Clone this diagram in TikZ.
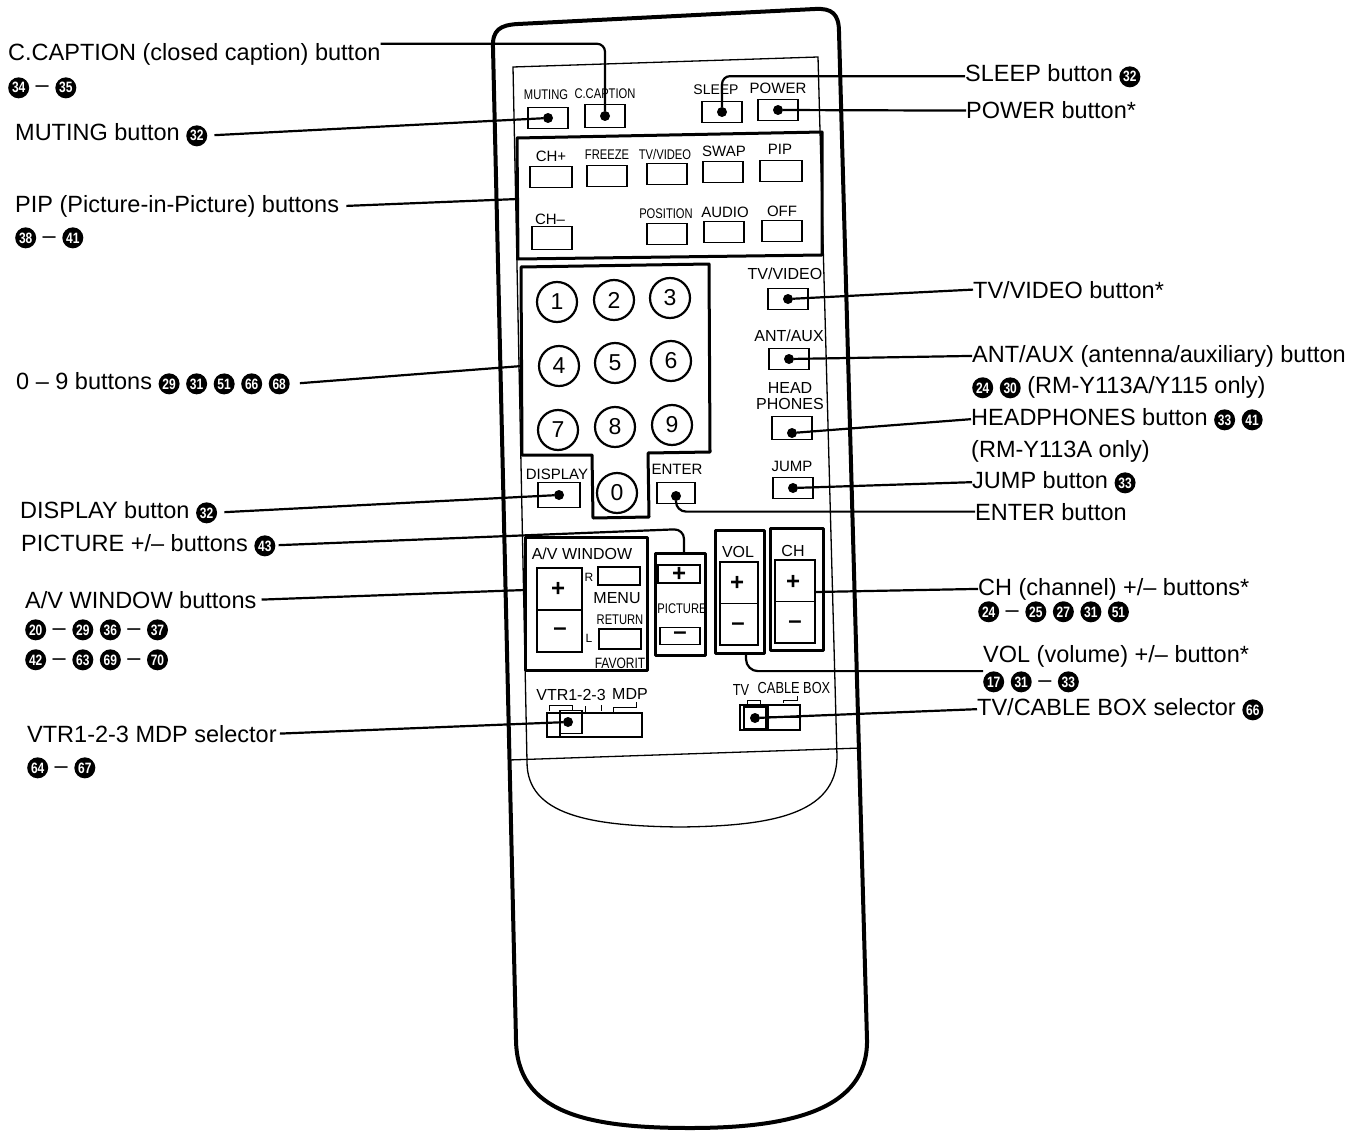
\documentclass[tikz,border=0pt]{standalone}
\usepackage{fontspec}
\setmainfont{Liberation Sans}
\newfontfamily\keyfont{Liberation Sans}[FakeStretch=0.8]
\usetikzlibrary{positioning}

\tikzset{
  body/.style={line width=4pt, line join=round},
  frame/.style={line width=1.3pt},
  panel/.style={line width=3pt, line join=round},
  lead/.style={line width=2.2pt},
  lbl/.style={anchor=base west, inner sep=0pt, font=\fontsize{23.5}{28}\selectfont},
  keybox/.style={draw, line width=1.8pt, minimum width=40pt, minimum height=21pt, inner sep=0pt},
  keydot/.style={circle, fill=black, inner sep=0pt, minimum size=10pt},
  numkey/.style={circle, draw, line width=2.2pt, minimum size=40pt, inner sep=0pt, font=\fontsize{23}{23}\selectfont},
  ktxt/.style={inner sep=0pt, font=\fontsize{15}{15}\selectfont},
  knar/.style={inner sep=0pt, font=\keyfont\fontsize{14}{14}\selectfont},
  sign/.style={inner sep=0pt, font=\bfseries\fontsize{24}{24}\selectfont},
  cnum/.style={shape=circle, anchor=center, draw=none, fill=black, text=white, inner sep=0pt, minimum size=21pt, font=\keyfont\bfseries\fontsize{15}{15}\selectfont},
}
\newcommand{\circnum}[1]{\tikz[baseline=(cn.base)]\node[cnum] (cn) {#1};}

\begin{document}
\begin{tikzpicture}[x=1pt, y=-1pt]
\useasboundingbox (0,0) rectangle (1359,1134);

\draw[body] (516,1040) -- (493,48) .. controls (492,30) and (500,25) .. (518,24) -- (815,9) .. controls (832,8) and (839,14) .. (839,32) -- (867,1040) .. controls (868,1110) and (790,1128) .. (690,1128) .. controls (585,1128) and (517,1112) .. (516,1040) -- cycle;
\draw[frame] (513,67) -- (818,57) -- (837,757) .. controls (836,815) and (770,826) .. (680,827) .. controls (590,826) and (527,815) .. (527,762) -- cycle;
\draw[frame] (509,760) -- (861,748);

\draw[panel] (517,138) -- (822,132) -- (822,255) -- (518,259) -- cycle;
\draw[panel] (521,267) -- (709,264) -- (710,452) -- (648,453) -- (649,517) -- (593,518) -- (592,455) -- (522,455) -- cycle;
\draw[panel] (525,537) rectangle (647,670);
\draw[panel] (655,553) rectangle (705,655);
\draw[panel] (715,530) rectangle (764,653);
\draw[panel] (770,528) rectangle (823,650);

\node[knar] (tmute) at (546,95) {MUTING};
\node[knar] (tccap) at (605,94) {C.CAPTION};
\node[ktxt, font=\fontsize{14}{14}\selectfont] (tsleep) at (716,90) {SLEEP};
\node[ktxt] (tpower) at (778,88) {POWER};
\node[keybox] (bmute) at (548,118) {};
\node[keybox, minimum height=23pt] (bccap) at (605,116) {};
\node[keybox] (bsleep) at (722,112) {};
\node[keybox] (bpower) at (778,110) {};

\node[ktxt] (tchp) at (551,156) {CH+};
\node[knar] (tfrz) at (607,155) {FREEZE};
\node[knar] (tpvid) at (665,154) {TV/VIDEO};
\node[ktxt] (tswap) at (724,151) {SWAP};
\node[ktxt] (tpip) at (780,149) {PIP};
\node[keybox, minimum width=42pt] (bchp) at (551,177) {};
\node[keybox] (bfrz) at (607,176) {};
\node[keybox] (bpvid) at (667,174) {};
\node[keybox] (bswap) at (723,172) {};
\node[keybox, minimum width=42pt] (bpip) at (781,171) {};
\node[ktxt] (tchm) at (550,219) {CH–};
\node[knar] (tpos) at (666,214) {POSITION};
\node[ktxt] (taudio) at (725,212) {AUDIO};
\node[ktxt] (toff) at (782,211) {OFF};
\node[keybox, minimum height=23pt] (bchm) at (552,238) {};
\node[keybox] (bpos) at (667,234) {};
\node[keybox] (baudio) at (724,232) {};
\node[keybox] (boff) at (782,231) {};

\node[numkey] (k1) at (557,302) {1};
\node[numkey] (k2) at (614,300) {2};
\node[numkey] (k3) at (670,298) {3};
\node[numkey] (k4) at (559,366) {4};
\node[numkey] (k5) at (615,363) {5};
\node[numkey] (k6) at (671,361) {6};
\node[numkey] (k7) at (558,430) {7};
\node[numkey] (k8) at (615,427) {8};
\node[numkey] (k9) at (672,425) {9};
\node[numkey] (k0) at (617,493) {0};

\node[ktxt] (tdisp) at (557,474) {DISPLAY};
\node[keybox, minimum width=42pt, minimum height=25pt] (bdisp) at (559,495) {};
\node[ktxt] (tenter) at (677,469) {ENTER};
\node[keybox, minimum width=38pt] (benter) at (676,493) {};

\node[ktxt, font=\fontsize{16}{16}\selectfont] (ttvv) at (785,274) {TV/VIDEO};
\node[keybox] (btvv) at (788,299) {};
\node[ktxt, font=\fontsize{16}{16}\selectfont] (tant) at (789,336) {ANT/AUX};
\node[keybox] (bant) at (789,359) {};
\node[ktxt, font=\fontsize{16}{15.5}\selectfont, align=center] (thead) at (790,396) {HEAD\\PHONES};
\node[keybox, minimum height=23pt] (bhead) at (792,428) {};
\node[ktxt] (tjump) at (792,466) {JUMP};
\node[keybox] (bjump) at (793,488) {};

\node[ktxt, font=\fontsize{16}{16}\selectfont] (tavw) at (582,554) {A/V WINDOW};
\node[draw, line width=1.8pt, minimum width=45pt, minimum height=84pt, inner sep=0pt] (avrock) at (559.5,610) {};
\draw[line width=1.8pt] (avrock.west) -- (avrock.east);
\node[sign] (avp) at (558,589) {+};
\node[sign] (avm) at (560,632) {–};
\node[ktxt, font=\fontsize{12}{12}\selectfont] (tr) at (589,577) {R};
\node[keybox, minimum width=42pt, minimum height=18pt] (br) at (619,576) {};
\node[ktxt, font=\fontsize{16}{16}\selectfont] (tmenu) at (617,598) {MENU};
\node[knar] (tret) at (620,620) {RETURN};
\node[ktxt, font=\fontsize{12}{12}\selectfont] (tl) at (589,638) {L};
\node[keybox, minimum width=42pt, minimum height=20pt] (bl) at (620,639) {};
\node[knar, font=\keyfont\fontsize{15}{15}\selectfont] (tfav) at (620,663) {FAVORIT};

\node[keybox, minimum width=42pt, minimum height=18pt] (bpicp) at (679,574) {};
\node[sign] (picp) at (679,574) {+};
\node[knar] (tpict) at (682,609) {PICTURE};
\node[keybox, minimum width=40pt, minimum height=17pt] (bpicm) at (680,636) {};
\node[sign] (picm) at (680,636) {–};

\node[ktxt, font=\fontsize{16}{16}\selectfont] (tvol) at (738,552) {VOL};
\node[draw, line width=1.8pt, minimum width=38pt, minimum height=83pt, inner sep=0pt] (volrock) at (739,603.5) {};
\draw[line width=1.8pt] (volrock.west) -- (volrock.east);
\node[sign] (volp) at (737,583) {+};
\node[sign] (volm) at (738,627) {–};
\node[ktxt, font=\fontsize{16}{16}\selectfont] (tch) at (793,551) {CH};
\node[draw, line width=1.8pt, minimum width=40pt, minimum height=83pt, inner sep=0pt] (chrock) at (795,601.5) {};
\draw[line width=1.8pt] (chrock.west) -- (chrock.east);
\node[sign] (chp) at (793,582) {+};
\node[sign] (chm) at (795,625) {–};

\node[ktxt, font=\fontsize{16}{16}\selectfont] (tvtr) at (571,695) {VTR1-2-3};
\node[ktxt, font=\fontsize{16}{16}\selectfont] (tmdp) at (630,694) {MDP};
\draw[line width=1pt] (549,711) -- (549,705) -- (572,705) -- (572,710);
\draw[line width=1pt] (585,706) -- (585,712);
\draw[line width=1pt] (601,705) -- (601,711);
\draw[line width=1pt] (613,712) -- (613,707) -- (636,707) -- (636,702);
\draw[frame] (547,713) rectangle (642,737);
\draw[frame] (560,713) -- (560,737);
\node[keybox, minimum width=22pt, minimum height=23pt] (bvtr) at (571,722) {};

\node[knar, font=\keyfont\fontsize{16}{16}\selectfont] (ttv) at (741,690) {TV};
\node[knar, font=\keyfont\fontsize{16}{16}\selectfont] (tcable) at (794,688) {CABLE BOX};
\draw[line width=1pt] (747,704) -- (747,700) -- (760,700) -- (760,704);
\draw[line width=1pt] (783,703) -- (783,700) -- (797,700) -- (797,696);
\draw[frame] (740,705) rectangle (800,730);
\draw[line width=2pt] (768,705) -- (768,730);
\draw[frame] (768,717) -- (800,717);
\node[keybox, minimum width=22pt, minimum height=22pt] (btvc) at (755,718) {};

\node[keydot] (dmute) at (bmute) {};
\node[keydot] (dccap) at (bccap) {};
\node[keydot] (dsleep) at (bsleep) {};
\node[keydot] (dpower) at (bpower) {};
\node[keydot] (ddisp) at (bdisp) {};
\node[keydot] (denter) at ([yshift=-3pt]benter.center) {};
\node[keydot] (dtvv) at (btvv) {};
\node[keydot] (dant) at (bant) {};
\node[keydot] (dhead) at ([yshift=-5pt]bhead.center) {};
\node[keydot] (djump) at (bjump) {};
\node[keydot] (dvtr) at ([xshift=-3pt]bvtr.center) {};
\node[keydot] (dtvc) at (btvc) {};

\coordinate (pipin) at (518,199);
\coordinate (keyin) at (522,366);
\coordinate (pictbend) at (684,529);
\coordinate (pictin) at (684,553);
\coordinate (avwin) at (525,590);
\coordinate (chin) at (816,592);
\coordinate (volin) at (746,653);

\node[lbl] (lccap) at (8,61) {C.CAPTION (closed caption) button};
\node[lbl] (lccapn) at (8,93) {\circnum{34} – \circnum{35}};
\node[lbl] (lmute) at (15,141) {MUTING button \circnum{32}};
\node[lbl] (lpip) at (15,212) {PIP (Picture-in-Picture) buttons};
\node[lbl] (lpipn) at (15,243) {\circnum{38} – \circnum{41}};
\node[lbl] (lkeys) at (16,389) {0 -- 9 buttons \circnum{29} \circnum{31} \circnum{51} \circnum{66} \circnum{68}};
\node[lbl] (ldisp) at (20,518) {DISPLAY button \circnum{32}};
\node[lbl] (lpict) at (21,551) {PICTURE +/– buttons \circnum{43}};
\node[lbl] (lavw) at (25,608) {A/V WINDOW buttons};
\node[lbl] (lavwn) at (25,635) {\circnum{20} – \circnum{29} \circnum{36} – \circnum{37}};
\node[lbl] (lavwm) at (25,665) {\circnum{42} – \circnum{63} \circnum{69} – \circnum{70}};
\node[lbl] (lvtr) at (27,742) {VTR1-2-3 MDP selector};
\node[lbl] (lvtrn) at (27,773) {\circnum{64} – \circnum{67}};

\node[lbl] (lsleep) at (965,82) {SLEEP button \circnum{32}};
\node[lbl] (lpower) at (966,119) {POWER button*};
\node[lbl] (ltvv) at (973,298) {TV/VIDEO button*};
\node[lbl] (lant) at (972,362) {ANT/AUX (antenna/auxiliary) button};
\node[lbl] (lantn) at (972,393) {\circnum{24} \circnum{30} (RM-Y113A/Y115 only)};
\node[lbl] (lhead) at (971,425) {HEADPHONES button \circnum{33} \circnum{41}};
\node[lbl] (lheadn) at (971,457) {(RM-Y113A only)};
\node[lbl] (ljump) at (972,488) {JUMP button \circnum{33}};
\node[lbl] (lenter) at (975,520) {ENTER button};
\node[lbl] (lch) at (978,595) {CH (channel) +/– buttons*};
\node[lbl] (lchn) at (978,617) {\circnum{24} – \circnum{25} \circnum{27} \circnum{31} \circnum{51}};
\node[lbl] (lvol) at (983,662) {VOL (volume) +/– button*};
\node[lbl] (lvoln) at (983,687) {\circnum{17} \circnum{31} – \circnum{33}};
\node[lbl] (ltvc) at (977,715) {TV/CABLE BOX selector \circnum{66}};

\draw[lead, rounded corners=8] (lccap.north east) -- (dccap |- lccap.north east) -- (dccap);
\draw[lead] ([xshift=7pt]lmute.east) -- (dmute);
\draw[lead] ([xshift=7pt]lpip.east) -- (pipin);
\draw[lead] ([xshift=10pt]lkeys.east) -- (keyin);
\draw[lead] ([xshift=7pt]ldisp.east) -- (ddisp);
\draw[lead, rounded corners=10] ([xshift=3pt]lpict.east) -- (pictbend) -- (pictin);
\draw[lead] ([xshift=5pt]lavw.east) -- (avwin);
\draw[lead] ([xshift=3pt]lvtr.east) -- (dvtr);

\draw[lead, rounded corners=8] (lsleep.west) -- (dsleep |- lsleep.west) -- (dsleep);
\draw[lead] (lpower.west) -- (dpower);
\draw[lead] (ltvv.west) -- (dtvv);
\draw[lead] (lant.west) -- (dant);
\draw[lead] (lhead.west) -- (dhead);
\draw[lead] (ljump.west) -- (djump);
\draw[lead, rounded corners=10] (lenter.west) -- (denter |- lenter.west) -- (denter);
\draw[lead] (lch.west) -- (chin);
\draw[lead, rounded corners=12] (lvoln.north west) -- (volin |- lvoln.north west) -- (volin);
\draw[lead] (ltvc.west) -- (dtvc);

\end{tikzpicture}
\end{document}
